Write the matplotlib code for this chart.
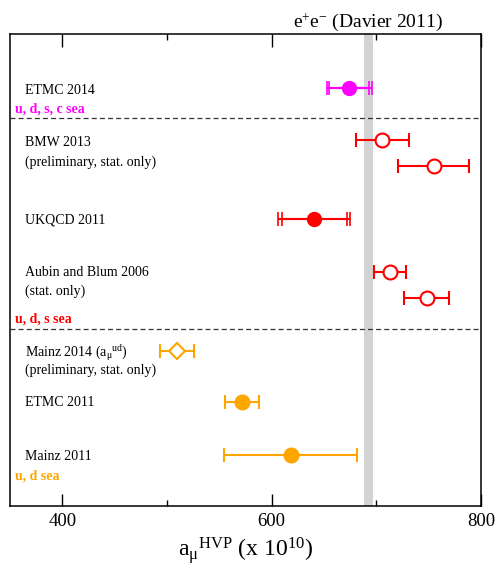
import matplotlib
matplotlib.use("Agg")
import matplotlib.pyplot as plt
import matplotlib.transforms as mtransforms

plt.rcParams["font.family"] = ["Liberation Serif", "DejaVu Serif"]
plt.rcParams["mathtext.fontset"] = "custom"
plt.rcParams["mathtext.rm"] = "Liberation Serif"
plt.rcParams["mathtext.it"] = "Liberation Serif:italic"
plt.rcParams["mathtext.bf"] = "Liberation Serif:bold"

# ---- data (a_mu^HVP x 10^10) ----
davier_value = 692.3
davier_err = 4.2

# single error bar points
names = ["BMW a", "BMW b", "Aubin a", "Aubin b", "Mainz 2014", "ETMC 2011", "Mainz 2011"]
values = [705.8, 754.8, 713.0, 748.0, 509.7, 571.8, 618.0]
errors = [25.0, 34.0, 15.5, 21.5, 16.0, 16.0, 64.0]
rows = [36.6, 34.0, 23.4, 20.8, 15.5, 10.4, 5.1]
colors = ["red", "red", "red", "red", "orange", "orange", "orange"]
markers = ["o", "o", "o", "o", "D", "o", "o"]
filled = [False, False, False, False, False, True, True]

# double error bar points (stat, total)
dbl_names = ["ETMC 2014", "UKQCD 2011"]
dbl_values = [674.0, 640.5]
dbl_stat = [19.0, 31.0]
dbl_total = [21.5, 34.0]
dbl_rows = [41.8, 28.7]
dbl_colors = ["magenta", "red"]

separators = [38.8, 17.7]

labels = ["ETMC 2014", "BMW 2013", "(preliminary, stat. only)", "UKQCD 2011",
          "Aubin and Blum 2006", "(stat. only)",
          "Mainz 2014 (a$_{\\mathrm{μ}}{}^{\\mathrm{ud}}$)",
          "(preliminary, stat. only)", "ETMC 2011", "Mainz 2011"]
label_rows = [41.5, 36.3, 34.4, 28.6, 23.3, 21.5, 15.3, 13.6, 10.3, 5.0]

sea_labels = ["u, d, s, c sea", "u, d, s sea", "u, d sea"]
sea_rows = [39.7, 18.7, 3.0]
sea_colors = ["magenta", "red", "orange"]

fig = plt.figure(figsize=(4.96, 5.71), dpi=100)
ax = fig.add_axes([10 / 496, 1 - 506 / 571, 471 / 496, 472 / 571])
ax.set_xlim(350, 800)
ax.set_ylim(0, 47.2)

ax.axvspan(davier_value - davier_err, davier_value + davier_err,
           color="#d3d3d3", lw=0, zorder=0)

for y in separators:
    ax.axhline(y, color="#333333", lw=0.9, ls=(0, (4, 2.5)), zorder=1)

for v, e, y, c, m, f in zip(values, errors, rows, colors, markers, filled):
    ms = 8 if m == "D" else 10
    ax.errorbar(v, y, xerr=e, fmt=m, color=c, ms=ms, mew=1.5, lw=1.5,
                capsize=4.7, capthick=1.5,
                mfc=c if f else "white", mec=c, zorder=3)

for v, es, et, y, c in zip(dbl_values, dbl_stat, dbl_total, dbl_rows, dbl_colors):
    ax.errorbar(v, y, xerr=et, fmt="none", ecolor=c, lw=1.5,
                capsize=4.7, capthick=1.2, zorder=3)
    ax.errorbar(v, y, xerr=es, fmt="o", color=c, ms=10, lw=1.5,
                capsize=4.7, capthick=1.2, mfc=c, mec=c, zorder=3)

for t, y in zip(labels, label_rows):
    ax.text(364, y, t, fontsize=10, va="center", ha="left")

for t, y, c in zip(sea_labels, sea_rows, sea_colors):
    ax.text(354.5, y, t, fontsize=10, va="center", ha="left",
            color=c, fontweight="bold")

trans = mtransforms.blended_transform_factory(ax.transData, ax.transAxes)
ax.text(davier_value, 1.016, "e$^{+}$e$^{-}$ (Davier 2011)", transform=trans,
        ha="center", va="baseline", fontsize=14)

ax.set_xticks([400, 600, 800])
ax.set_xticks([500, 700], minor=True)
ax.set_yticks([])
ax.tick_params(axis="x", which="major", direction="in", length=9, width=1,
               top=True, labelsize=13.5, pad=5)
ax.tick_params(axis="x", which="minor", direction="in", length=4.5, width=1,
               top=True)
for s in ax.spines.values():
    s.set_linewidth(1.1)

ax.set_xlabel("a$_{\\mathrm{μ}}{}^{\\mathrm{HVP}}$ (x 10$^{10}$)", fontsize=17,
              labelpad=4)

fig.savefig("out.png", dpi=100)
